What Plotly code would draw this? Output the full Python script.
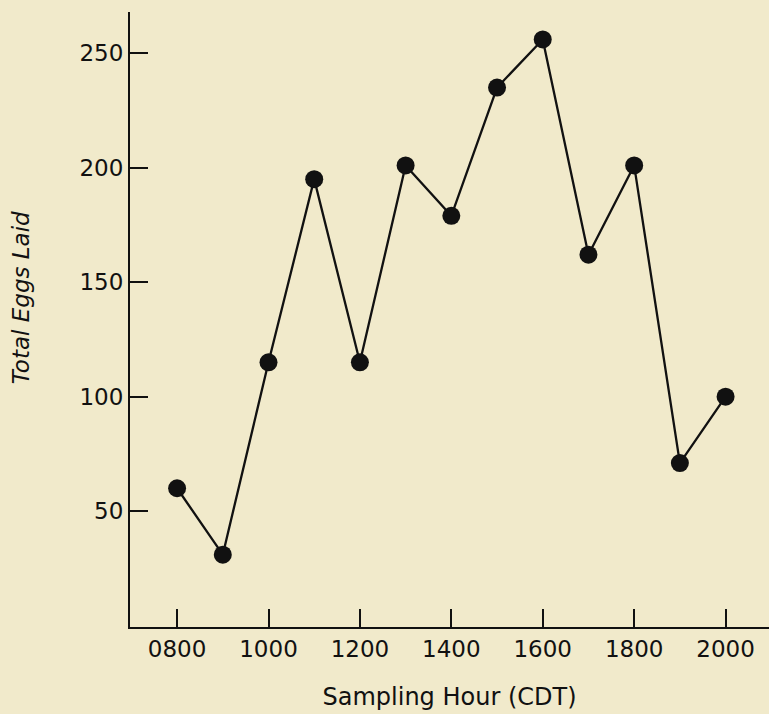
import plotly.graph_objects as go

hours = [800, 900, 1000, 1100, 1200, 1300, 1400, 1500, 1600, 1700, 1800, 1900, 2000]
eggs = [60, 31, 115, 195, 115, 201, 179, 235, 256, 162, 201, 71, 100]
x_tickvals = [800, 1000, 1200, 1400, 1600, 1800, 2000]
x_ticktext = ["0800", "1000", "1200", "1400", "1600", "1800", "2000"]
y_tickvals = [50, 100, 150, 200, 250]

bg = "#f1eacb"
ink = "#111111"
font_family = "'DejaVu Sans', sans-serif"

fig = go.Figure()
fig.add_trace(go.Scatter(
    x=hours, y=eggs, mode="lines+markers",
    line=dict(color=ink, width=2.3),
    marker=dict(color=ink, size=18),
    showlegend=False,
))

fig.update_layout(
    width=769, height=714,
    paper_bgcolor=bg, plot_bgcolor=bg,
    margin=dict(l=130, r=0, t=12, b=87),
    font=dict(family=font_family, color=ink, size=23),
    xaxis=dict(
        range=[697, 2095], tickvals=x_tickvals, ticktext=x_ticktext,
        showline=True, linecolor=ink, linewidth=2, showgrid=False, zeroline=False,
        ticks="inside", ticklen=18, tickwidth=2, tickcolor=ink,
        tickfont=dict(size=23),
        title=dict(text="Sampling Hour (CDT)", font=dict(size=24), standoff=28),
    ),
    yaxis=dict(
        range=[-0.6, 268], tickvals=y_tickvals,
        showline=True, linecolor=ink, linewidth=2, showgrid=False, zeroline=False,
        ticks="inside", ticklen=18, tickwidth=2, tickcolor=ink,
        tickfont=dict(size=23),
    ),
    annotations=[dict(
        text="<i>Total Eggs Laid</i>", textangle=-90,
        xref="paper", yref="paper", x=-0.17, y=0.535,
        xanchor="center", yanchor="middle", showarrow=False,
        font=dict(size=23, color=ink),
    )],
)

fig.write_html(
    "out.html",
    config={"displayModeBar": False},
    post_script="document.body.style.margin='0';document.body.style.overflow='hidden';"
                "document.body.style.background='" + bg + "';",
)
